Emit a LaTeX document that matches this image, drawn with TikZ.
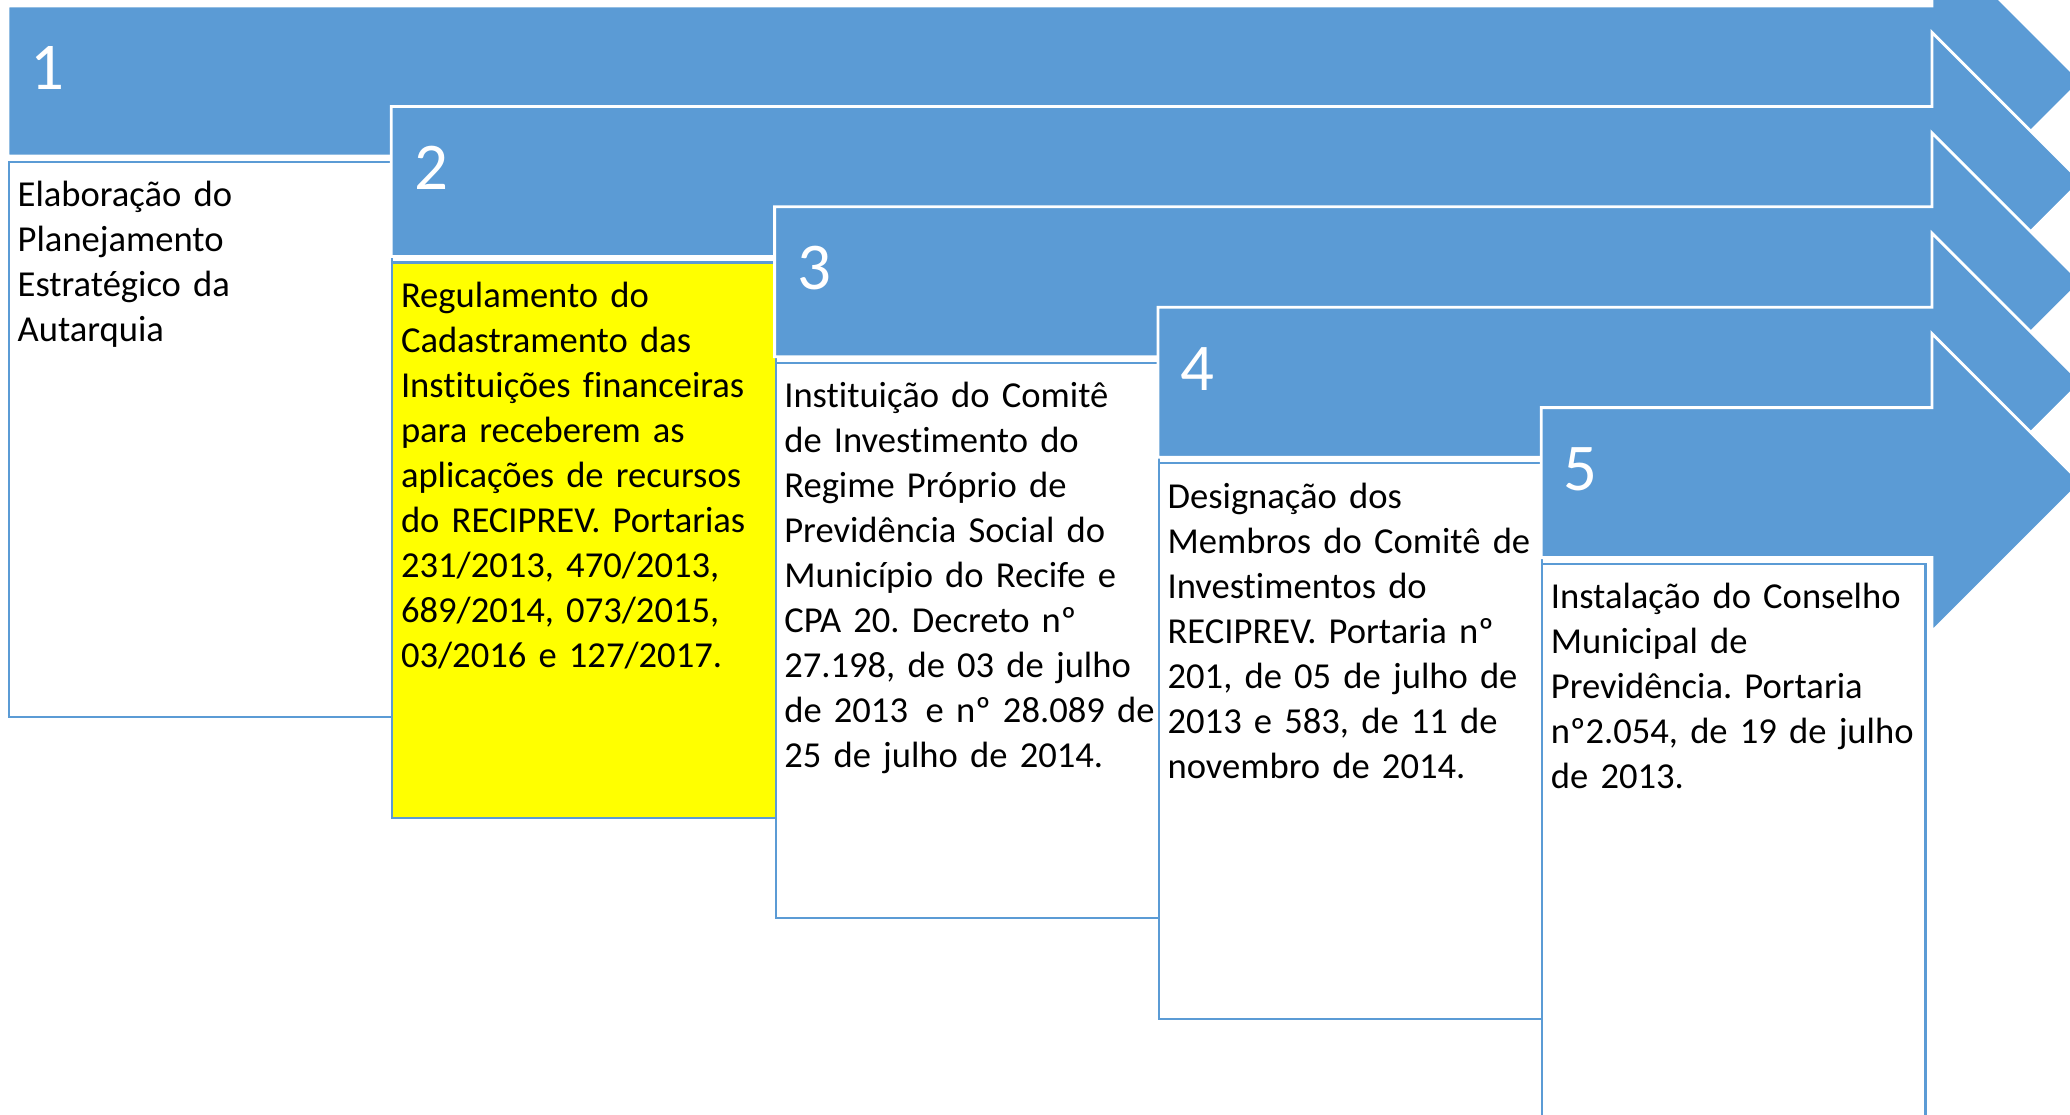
\documentclass[tikz,border=0pt]{standalone}
\usepackage{fontspec}
\setmainfont{Carlito}[Ligatures=NoCommon]
\usepackage{tikz}
\usetikzlibrary{positioning, calc}
\definecolor{stepblue}{RGB}{91,155,213}
\definecolor{stepyellow}{RGB}{255,255,0}
\frenchspacing
\tikzset{
  steparrow/.style={fill=stepblue, draw=white, line width=0.8pt, line join=miter},
  stepbox/.style={rectangle, draw=stepblue, line width=0.6pt, inner sep=0pt,
    minimum width=3.83cm, minimum height=5.55cm, anchor=north west},
  stepnum/.style={anchor=base west, inner sep=0pt, text=white,
    font=\fontsize{19}{22}\selectfont},
  steptext/.style={anchor=base west, inner sep=0pt, text width=3.8cm,
    align=left, font=\fontsize{10.4}{12.8}\selectfont}
}

\begin{document}
\begin{tikzpicture}[x=0.01cm, y=-0.01cm]
  \useasboundingbox (0,0) rectangle (2070,1114);
  \clip (0,0) rectangle (2070,1114);

  % Arrows and boxes, one step down each time
  \foreach \n/\fillc in {1/white, 2/stepyellow, 3/white, 4/white, 5/white} {
    \pgfmathsetmacro\L{8+383.3*(\n-1)}
    \pgfmathsetmacro\T{6+100.4*(\n-1)}
    \filldraw[steparrow] (\L,\T) -- (1932,\T) -- (1932,\T-74) -- (2081,\T+75)
      -- (1932,\T+224) -- (1932,\T+150) -- (\L,\T+150) -- cycle;
    \node[stepbox, fill=\fillc] (box\n) at (\L,\T+155) {};
    \node[stepnum] (num\n) at (\L+22,\T+83) {\n};
  }

  % Texts
  \node[steptext] (txt1) at ($(box1.north west)+(9,45)$)
    {Elaboração do\\Planejamento\\Estratégico da\\Autarquia};
  \node[steptext] (txt2) at ($(box2.north west)+(9,46)$)
    {Regulamento do\\Cadastramento das\\Instituições financeiras\\para receberem as\\aplicações de recursos\\do RECIPREV. Portarias\\231/2013, 470/2013,\\689/2014, 073/2015,\\03/2016 e 127/2017.};
  \node[steptext] (txt3) at ($(box3.north west)+(9,46)$)
    {Instituição do Comitê\\de Investimento do\\Regime Próprio de\\Previdência Social do\\Município do Recife e\\CPA 20. Decreto nº\\27.198, de 03 de julho\\de 2013\hspace{0.15em} e nº 28.089 de\\25 de julho de 2014.};
  \node[steptext] (txt4) at ($(box4.north west)+(9,46)$)
    {Designação dos\\Membros do Comitê de\\Investimentos do\\RECIPREV. Portaria nº\\201, de 05 de julho de\\2013 e 583, de 11 de\\novembro de 2014.};
  \node[steptext] (txt5) at ($(box5.north west)+(9,46)$)
    {Instalação do Conselho\\Municipal de\\Previdência. Portaria\\nº2.054, de 19 de julho\\de 2013.};
\end{tikzpicture}
\end{document}
